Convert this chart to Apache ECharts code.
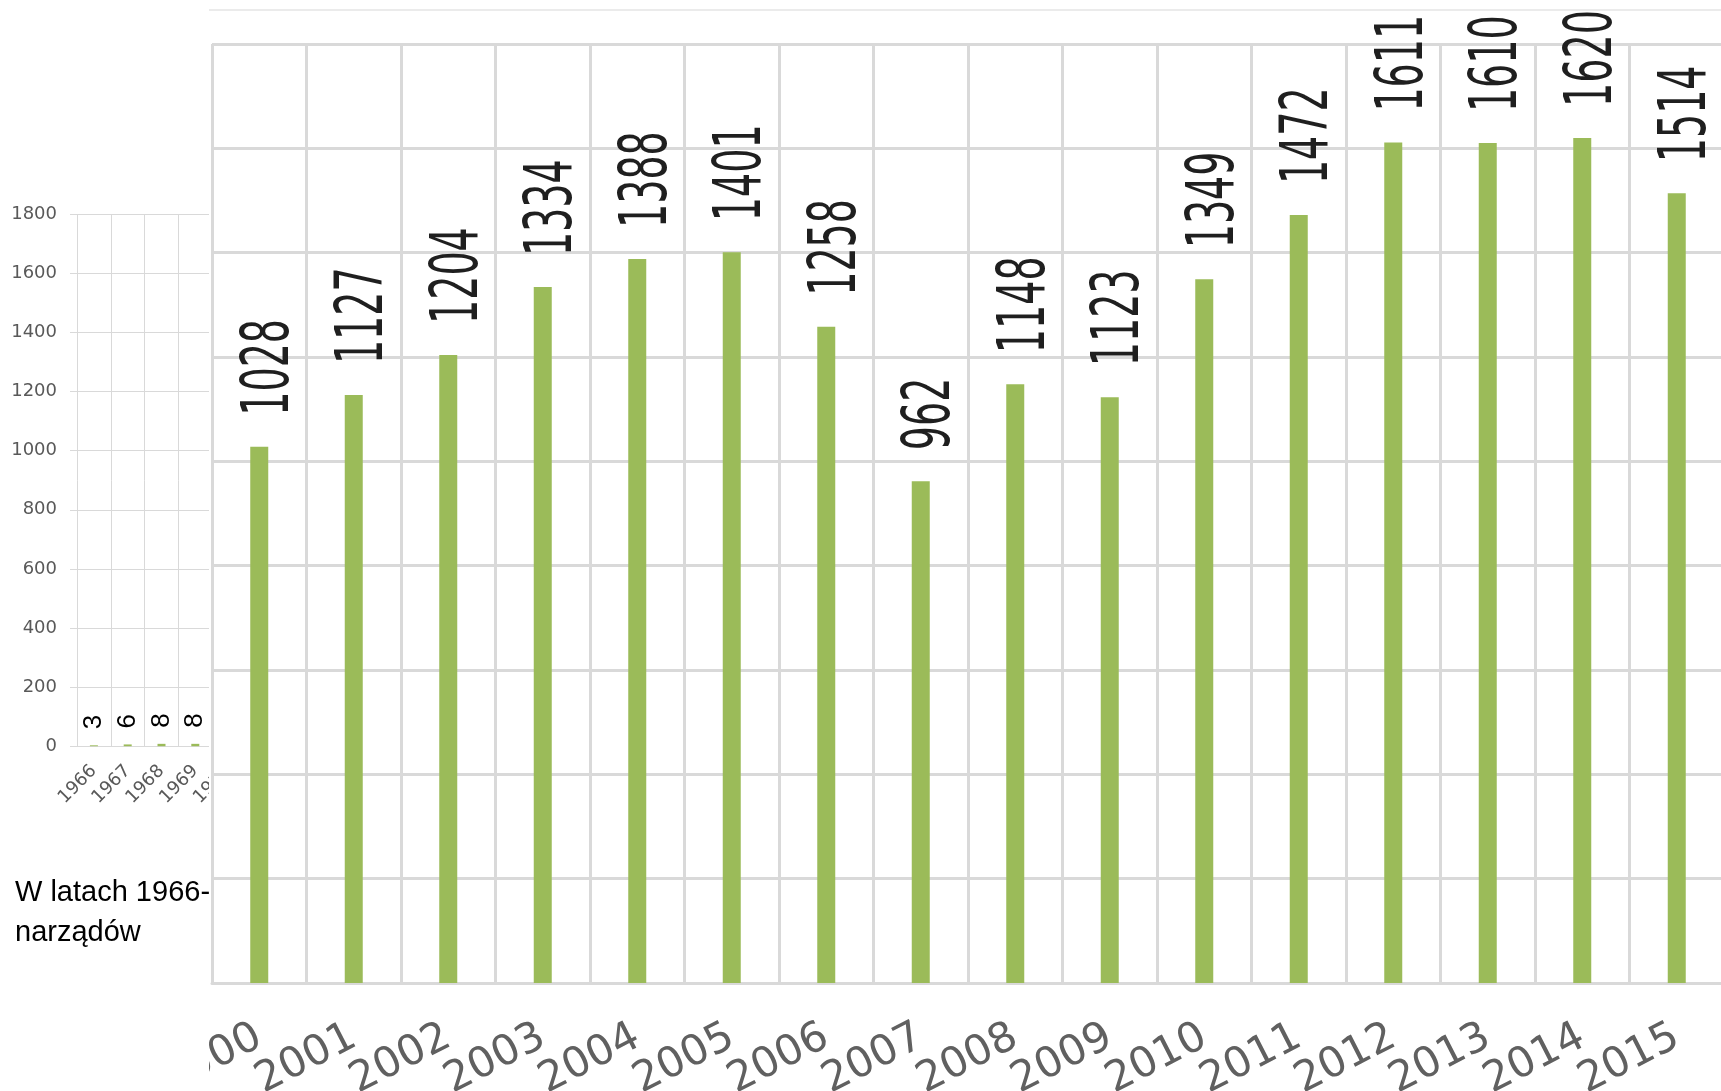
<!DOCTYPE html>
<html><head><meta charset="utf-8">
<script src="https://cdn.jsdelivr.net/npm/echarts@6/dist/echarts.min.js"></script>
<style>
html,body{margin:0;padding:0;width:1721px;height:1091px;overflow:hidden;background:#fff;}
#smallWrap{position:absolute;left:0;top:0;width:209px;height:1091px;overflow:hidden;background:#fff;}
#small{position:absolute;left:0;top:0;width:260px;height:1091px;}
#big{position:absolute;left:209px;top:0;width:1515px;height:1091px;background:#fff;}
</style></head><body>
<div id="smallWrap"><div id="small"></div></div>
<div id="big"></div>
<script>
// ---- data ----
const smallYears = ['1966', '1967', '1968', '1969', '1970'];
const smallValues = [3, 6, 8, 8, null];
const bigYears = ['2000', '2001', '2002', '2003', '2004', '2005', '2006', '2007',
                  '2008', '2009', '2010', '2011', '2012', '2013', '2014', '2015'];
const bigValues = [1028, 1127, 1204, 1334, 1388, 1401, 1258, 962,
                   1148, 1123, 1349, 1472, 1611, 1610, 1620, 1514];
const yMin = 0, yMax = 1800, yStep = 200;
const noteLines = ['W latach 1966-', 'narządów'];

const GREEN = '#9BBB59';
const GRID = '#d9d9d9';
const AXISTXT = '#595959';

// ---- small chart (left) ----
const small = echarts.init(document.getElementById('small'), null, {renderer: 'canvas'});
small.setOption({
  animation: false,
  backgroundColor: '#fff',
  grid: {left: 77, right: 14, top: 214.3, bottom: 344.8, outerBoundsMode: 'none'},
  xAxis: {
    type: 'category', data: smallYears, boundaryGap: true,
    axisLine: {show: true, lineStyle: {color: GRID, width: 1}},
    axisTick: {show: false},
    splitLine: {show: true, lineStyle: {color: GRID, width: 1}},
    axisLabel: {interval: 0, rotate: 45, fontFamily: 'DejaVu Sans', fontSize: 18, color: AXISTXT, margin: 22}
  },
  yAxis: {
    type: 'value', min: yMin, max: yMax, interval: yStep,
    axisLine: {show: false},
    axisTick: {show: true, length: 7, lineStyle: {color: GRID}},
    splitLine: {show: true, lineStyle: {color: GRID, width: 1}},
    axisLabel: {fontFamily: 'DejaVu Sans', fontSize: 18, color: AXISTXT, margin: 20,
                formatter: function (v) { return String(v); }}
  },
  series: [{
    type: 'bar', data: smallValues, barWidth: 8,
    itemStyle: {color: GREEN},
    label: {show: true, position: 'top', distance: 16, rotate: 90, align: 'left', verticalAlign: 'middle',
            fontFamily: 'Liberation Sans', fontSize: 26, color: '#000'}
  }],
  graphic: noteLines.map((t, i) => ({
    type: 'text', left: 15, top: 878 + i * 40,
    style: {text: t, font: '29px "Liberation Sans"', fill: '#000'}
  }))
});

// ---- big chart (right, magnified) ----
const big = echarts.init(document.getElementById('big'), null, {renderer: 'canvas'});
big.setOption({
  animation: false,
  backgroundColor: '#fff',
  grid: {left: 3, right: 0, top: 44, bottom: 108, outerBoundsMode: 'none'},
  xAxis: {
    type: 'category', data: bigYears, boundaryGap: true,
    axisLine: {show: true, lineStyle: {color: GRID, width: 3}},
    axisTick: {show: false},
    splitLine: {show: true, lineStyle: {color: GRID, width: 3}},
    axisLabel: {interval: 0, rotate: 27, fontFamily: 'DejaVu Sans', fontSize: 42, color: '#606060', margin: 52}
  },
  yAxis: {
    type: 'value', min: yMin, max: yMax, interval: yStep,
    axisLine: {show: false}, axisTick: {show: false}, axisLabel: {show: false},
    splitLine: {show: true, lineStyle: {color: GRID, width: 3}}
  },
  series: [{
    type: 'bar', data: bigValues, barWidth: 18, z: 2,
    itemStyle: {color: GREEN}
  }, {
    type: 'custom', z: 3, clip: false,
    data: bigValues.map((v, i) => [i, v]),
    encode: {x: 0, y: 1},
    renderItem: function (params, api) {
      const v = api.value(1);
      const p = api.coord([api.value(0), v]);
      return {
        type: 'text', x: p[0] + 11, y: p[1] - 31,
        rotation: Math.PI / 2, scaleX: 1, scaleY: 1.75,
        style: {text: String(v), fontFamily: 'DejaVu Sans', fontSize: 38, fill: '#1f1f1f',
                align: 'left', verticalAlign: 'middle'}
      };
    }
  }],
  graphic: [{
    type: 'line', z: 0,
    shape: {x1: 0, y1: 10, x2: 1515, y2: 10},
    style: {stroke: '#e4e4e4', lineWidth: 1.5}
  }]
});
</script>
</body></html>
